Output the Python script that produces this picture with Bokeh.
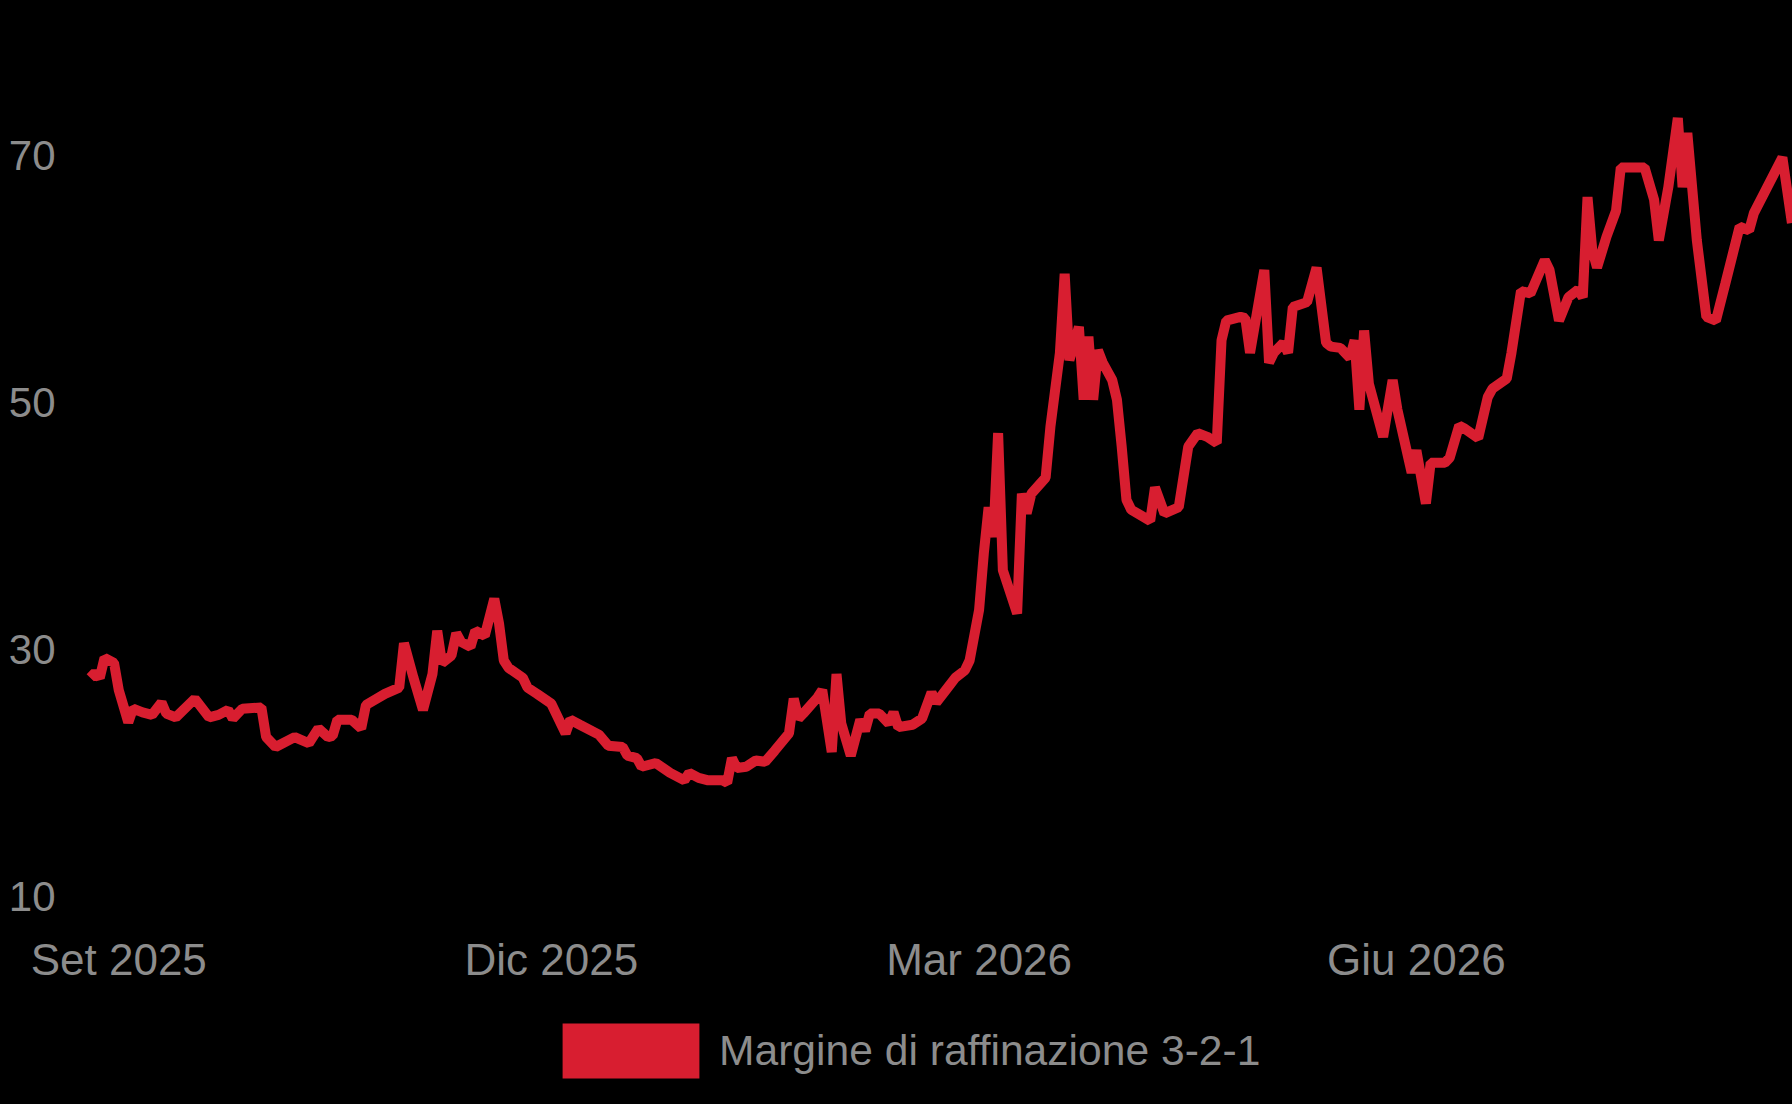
import pandas as pd
from bokeh.plotting import figure
from bokeh.layouts import column
from bokeh.models import Range1d, FixedTicker, Legend, LegendItem
from bokeh.embed import file_html
from bokeh.resources import INLINE

# ---------------- data ----------------
series_name = "Margine di raffinazione 3-2-1"

dates = [
    "2025-08-26", "2025-08-27", "2025-08-28", "2025-08-29", "2025-08-31",
    "2025-09-01", "2025-09-03", "2025-09-04", "2025-09-06", "2025-09-08", "2025-09-10", "2025-09-11",
    "2025-09-13", "2025-09-17", "2025-09-20", "2025-09-22", "2025-09-24", "2025-09-25", "2025-09-27",
    "2025-10-01", "2025-10-02", "2025-10-04", "2025-10-08", "2025-10-11", "2025-10-13", "2025-10-15",
    "2025-10-16", "2025-10-17", "2025-10-20", "2025-10-22", "2025-10-23", "2025-10-27", "2025-10-30",
    "2025-10-31",
    "2025-11-02", "2025-11-04", "2025-11-06", "2025-11-07", "2025-11-08", "2025-11-10", "2025-11-11",
    "2025-11-12", "2025-11-14", "2025-11-15", "2025-11-17", "2025-11-19", "2025-11-20", "2025-11-21",
    "2025-11-22", "2025-11-25", "2025-11-26", "2025-11-28",
    "2025-12-01", "2025-12-04", "2025-12-05", "2025-12-07", "2025-12-11", "2025-12-13", "2025-12-16",
    "2025-12-17", "2025-12-19", "2025-12-20", "2025-12-23", "2025-12-26", "2025-12-29", "2025-12-30",
    "2026-01-01", "2026-01-03", "2026-01-06", "2026-01-07", "2026-01-08", "2026-01-09", "2026-01-11",
    "2026-01-13", "2026-01-15", "2026-01-17", "2026-01-20", "2026-01-21", "2026-01-22", "2026-01-23",
    "2026-01-26", "2026-01-27", "2026-01-29", "2026-01-30", "2026-01-31",
    "2026-02-02", "2026-02-04", "2026-02-05", "2026-02-06", "2026-02-08", "2026-02-10", "2026-02-11",
    "2026-02-12", "2026-02-15", "2026-02-17", "2026-02-19", "2026-02-20", "2026-02-22", "2026-02-24",
    "2026-02-26", "2026-02-27",
    "2026-03-01", "2026-03-02", "2026-03-03", "2026-03-04", "2026-03-05", "2026-03-06", "2026-03-09",
    "2026-03-10", "2026-03-11", "2026-03-12", "2026-03-15", "2026-03-16", "2026-03-18", "2026-03-19",
    "2026-03-20", "2026-03-22", "2026-03-23", "2026-03-24", "2026-03-25", "2026-03-26", "2026-03-27",
    "2026-03-29", "2026-03-30", "2026-03-31",
    "2026-04-01", "2026-04-02", "2026-04-06", "2026-04-07", "2026-04-09", "2026-04-12", "2026-04-14",
    "2026-04-16", "2026-04-18", "2026-04-20", "2026-04-21", "2026-04-22", "2026-04-25", "2026-04-26",
    "2026-04-27", "2026-04-30",
    "2026-05-01", "2026-05-02", "2026-05-04", "2026-05-05", "2026-05-06", "2026-05-09", "2026-05-11",
    "2026-05-13", "2026-05-14", "2026-05-16", "2026-05-18", "2026-05-19", "2026-05-20", "2026-05-21",
    "2026-05-22", "2026-05-25", "2026-05-27", "2026-05-28", "2026-05-31",
    "2026-06-01", "2026-06-03", "2026-06-04", "2026-06-07", "2026-06-08", "2026-06-10", "2026-06-11",
    "2026-06-14", "2026-06-16", "2026-06-17", "2026-06-20", "2026-06-21", "2026-06-23", "2026-06-25",
    "2026-06-28", "2026-06-29",
    "2026-07-01", "2026-07-03", "2026-07-05", "2026-07-06", "2026-07-07", "2026-07-08", "2026-07-09",
    "2026-07-11", "2026-07-13", "2026-07-14", "2026-07-19", "2026-07-21", "2026-07-22", "2026-07-24",
    "2026-07-26", "2026-07-27", "2026-07-28", "2026-07-30",
    "2026-08-01", "2026-08-03", "2026-08-05", "2026-08-08", "2026-08-10", "2026-08-11", "2026-08-17",
    "2026-08-19",
]

margin_values = [
    27.7, 28.1, 27.7, 29.3, 28.9,
    26.7, 24.1, 25.2, 24.9, 24.7, 25.7, 24.8, 24.5, 26.0, 24.5, 24.7, 25.1, 24.4, 25.2,
    25.3, 22.9, 22.1, 22.9, 22.4, 23.6, 22.9, 23.0, 24.3, 24.3, 23.6, 25.5, 26.4, 26.9, 30.5,
    27.7, 25.1, 28.0, 31.5, 28.9, 29.5, 31.3, 30.6, 30.2, 31.5, 31.1, 34.1, 32.1, 29.1, 28.5,
    27.7, 26.9, 26.4,
    25.6, 23.2, 24.3, 23.9, 23.1, 22.2, 22.1, 21.4, 21.2, 20.5, 20.8, 20.0, 19.4, 20.0,
    19.6, 19.4, 19.4, 19.2, 21.2, 20.4, 20.5, 21.0, 20.9, 21.8, 23.2, 26.0, 24.4, 24.8, 26.1,
    26.7, 21.7, 28.0, 24.0,
    21.4, 24.3, 23.4, 24.8, 24.8, 24.0, 24.9, 23.7, 23.9, 24.4, 26.5, 25.7, 26.7, 27.7, 28.3, 29.1,
    33.2, 37.8, 41.5, 39.1, 47.5, 36.4, 32.9, 42.6, 41.0, 42.6, 43.9, 48.0, 54.0, 60.4, 53.4,
    56.1, 50.2, 55.3, 50.2, 54.2, 53.2, 51.8, 50.2, 46.4,
    42.1, 41.3, 40.4, 43.1, 41.0, 41.5, 46.4, 47.5, 47.2, 46.7, 55.0, 56.6, 56.9, 56.8, 54.0, 60.7,
    53.2, 54.0, 54.8, 54.0, 57.7, 58.1, 60.9, 54.8, 54.5, 54.4, 53.6, 55.0, 49.4, 55.8, 51.5,
    47.2, 51.8, 49.4, 44.3,
    46.1, 41.8, 45.1, 45.1, 45.5, 48.1, 47.9, 47.1, 50.4, 51.1, 51.9, 54.0, 59.0, 58.8, 61.5, 60.7,
    56.6, 58.5, 59.1, 58.5, 66.6, 62.3, 60.9, 63.4, 65.5, 69.0, 69.0, 66.4, 63.1, 67.4, 73.0,
    67.4, 71.8, 63.1,
    56.9, 56.6, 59.6, 64.2, 63.9, 65.3, 69.8, 64.5,
]

x_tick_dates = ["2025-09-01", "2025-12-01", "2026-03-01", "2026-06-01"]
x_tick_labels = ["Set 2025", "Dic 2025", "Mar 2026", "Giu 2026"]
y_ticks = [10, 30, 50, 70]

# ---------------- styling ----------------
BG = "#000000"
RED = "#d81e30"
GREY = "#8c8c8c"
FONT = "Liberation Sans"

x = pd.to_datetime(dates)
x_range = Range1d(pd.Timestamp("2025-08-20 14:00").to_pydatetime(),
                  pd.Timestamp("2026-08-19 03:00").to_pydatetime())
y_range = Range1d(8.46, 82.51)

# ---- main chart ----
p = figure(
    width=1792, height=1000,
    x_axis_type="datetime", x_range=x_range, y_range=y_range,
    output_backend="svg", toolbar_location=None,
    background_fill_color=BG, border_fill_color=BG,
    min_border_left=64, min_border_right=0, min_border_top=0, min_border_bottom=85,
)
p.outline_line_color = None
p.grid.visible = False

p.line(x=x, y=margin_values, line_color=RED, line_width=10, line_join="bevel")

tick_ms = [int(pd.Timestamp(d).value // 10**6) for d in x_tick_dates]
p.xaxis.ticker = FixedTicker(ticks=tick_ms)
p.xaxis.major_label_overrides = {t: lab for t, lab in zip(tick_ms, x_tick_labels)}
for ax in (p.xaxis, p.yaxis):
    ax.axis_line_color = None
    ax.major_tick_line_color = None
    ax.minor_tick_line_color = None
    ax.major_tick_out = 0
    ax.major_tick_in = 0
    ax.minor_tick_out = 0
    ax.major_label_text_color = GREY
    ax.major_label_text_font = FONT
p.xaxis.major_label_text_font_size = "44px"
p.xaxis.major_label_standoff = 19

p.yaxis.ticker = FixedTicker(ticks=y_ticks)
p.yaxis.major_label_text_font_size = "42px"
p.yaxis.major_label_standoff = 9

# ---- legend strip (frame aligned with the chart above) ----
leg = figure(
    width=1792, height=104,
    x_axis_type="datetime", x_range=x_range, y_range=y_range,
    x_axis_location=None, y_axis_location=None,
    output_backend="svg", toolbar_location=None,
    background_fill_color=BG, border_fill_color=BG,
    min_border_left=0, min_border_right=0, min_border_top=0, min_border_bottom=0,
)
leg.outline_line_color = None
leg.grid.visible = False
# zero-height area: gives the legend its filled swatch, draws nothing itself
swatch_r = leg.varea(x=x, y1=margin_values, y2=margin_values, fill_color=RED, fill_alpha=1.0)

legend = Legend(
    items=[LegendItem(label=series_name, renderers=[swatch_r])],
    location=(481, 19),
    orientation="horizontal",
    padding=0, margin=0, spacing=0,
    border_line_color=None, background_fill_alpha=0,
    glyph_width=171, glyph_height=69, label_standoff=3,
    label_text_font=FONT, label_text_font_size="42.6px", label_text_color=GREY,
)
leg.add_layout(legend)

layout = column(p, leg, spacing=0)

html = file_html(layout, INLINE)
html = html.replace("</head>", "<style>html, body { background: #000000; }</style></head>", 1)
open("out.html", "w").write(html)
